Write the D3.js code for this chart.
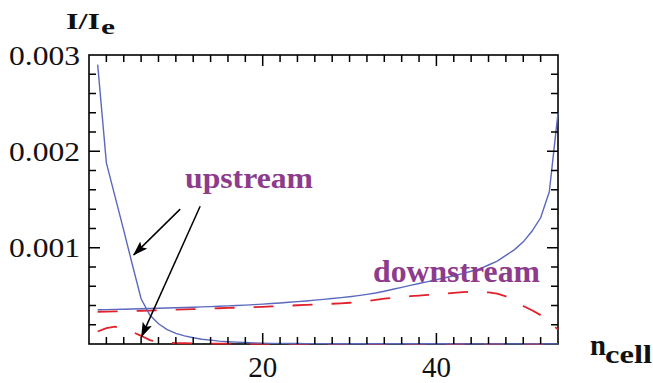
<!DOCTYPE html>
<html>
<head>
<meta charset="utf-8">
<script src="https://cdn.jsdelivr.net/npm/d3@7"></script>
<style>
  html, body { margin: 0; padding: 0; background: #fff; }
  svg { display: block; }
</style>
</head>
<body>
<svg id="chart" width="653" height="383"></svg>
<script>
// I/Ie per cell, cells numbered 1..54
const upstreamSolid = [
  0.00290, 0.00188, 0.00153, 0.00118, 0.00082, 0.00047, 0.00030, 0.00021, 0.00015, 0.00011,
  0.000085, 0.000065, 0.00005, 0.00004, 0.00003, 0.000024, 0.000019, 0.000015, 0.000012, 0.000009,
  0.000007, 0.000006, 0.000005, 0.000005, 0.000004, 0.000004, 0.000004, 0.000003, 0.000003, 0.000003,
  0.000003, 0.000003, 0.000002, 0.000002, 0.000002, 0.000002, 0.000002, 0.000002, 0.000002, 0.000002,
  0.000002, 0.000001, 0.000001, 0.000001, 0.000001, 0.000001, 0.000001, 0.000001, 0.000001, 0.000001,
  0.000001, 0.000001, 0.000001, 0.000001
];
const downstreamSolid = [
  0.000355, 0.000357, 0.000359, 0.000361, 0.000364, 0.000366, 0.000368, 0.000371, 0.000373, 0.000376,
  0.000379, 0.000382, 0.000385, 0.000388, 0.000392, 0.000396, 0.000400, 0.000404, 0.000409, 0.000414,
  0.000420, 0.000426, 0.000433, 0.000440, 0.000447, 0.000455, 0.000463, 0.000472, 0.000481, 0.000491,
  0.000502, 0.000515, 0.000530, 0.000548, 0.000568, 0.000588, 0.000608, 0.000628, 0.000648, 0.000668,
  0.000688, 0.000708, 0.000730, 0.000755, 0.000780, 0.000820, 0.000860, 0.000920, 0.000980, 0.001060,
  0.001170, 0.001310, 0.001580, 0.002400
];
const upstreamDashed = [
  0.000130, 0.000165, 0.000180, 0.000160, 0.000125, 0.000085, 0.000040, 0.000020, 0.000014, 0.000010,
  0.000008, 0.000006, 0.000005, 0.000004, 0.000004, 0.000003, 0.000003, 0.000003, 0.000002, 0.000002,
  0.000002, 0.000002, 0.000002, 0.000002, 0.000001, 0.000001, 0.000001, 0.000001, 0.000001, 0.000001,
  0.000001, 0.000001, 0.000001, 0.000001, 0.000001, 0.000001, 0.000001, 0.000001, 0.000001, 0.000001,
  0.000001, 0.000001, 0.000001, 0.000001, 0.000001, 0.000001, 0.000001, 0.000001, 0.000001, 0.000001,
  0.000001, 0.000001, 0.000001, 0.000001
];
const downstreamDashed = [
  0.000335, 0.000337, 0.000339, 0.000341, 0.000343, 0.000345, 0.000347, 0.000350, 0.000353, 0.000356,
  0.000359, 0.000362, 0.000365, 0.000368, 0.000371, 0.000374, 0.000377, 0.000380, 0.000383, 0.000386,
  0.000390, 0.000394, 0.000398, 0.000402, 0.000406, 0.000410, 0.000414, 0.000418, 0.000422, 0.000428,
  0.000436, 0.000446, 0.000458, 0.000470, 0.000480, 0.000488, 0.000496, 0.000503, 0.000509, 0.000515,
  0.000522, 0.000530, 0.000538, 0.000543, 0.000543, 0.000535, 0.000522, 0.000495, 0.000455, 0.000395,
  0.000350, 0.000300, 0.000230, 0.000150
];

const xTickValues = [20, 40];
const xTickLabels = ["20", "40"];
const yTickValues = [0.001, 0.002, 0.003];
const yTickLabels = ["0.001", "0.002", "0.003"];

const svg = d3.select("#chart");
const serif = '"Liberation Serif"';

const plotLeft = 89, plotRight = 558, plotTop = 55, plotBottom = 344;
const x = d3.scaleLinear().domain([0, 54]).range([plotLeft, plotRight]);
const y = d3.scaleLinear().domain([0, 0.003]).range([plotBottom, plotTop]);

// tick labels
svg.selectAll("text.xl").data(xTickValues).join("text").attr("class", "xl")
  .attr("x", d => x(d)).attr("y", 376.5)
  .attr("text-anchor", "middle")
  .style("font-family", serif).style("font-size", "29px").attr("fill", "#111")
  .text((d, i) => xTickLabels[i]);
svg.selectAll("text.ylab").data(yTickValues).join("text").attr("class", "ylab")
  .attr("x", 80).attr("y", d => y(d) + 9.5)
  .attr("text-anchor", "end")
  .style("font-family", serif).style("font-size", "28px").attr("fill", "#111")
  .attr("textLength", 71).attr("lengthAdjust", "spacingAndGlyphs")
  .text((d, i) => yTickLabels[i]);

// frame
svg.append("rect")
  .attr("x", plotLeft).attr("y", plotTop)
  .attr("width", plotRight - plotLeft).attr("height", plotBottom - plotTop)
  .attr("fill", "none").attr("stroke", "#000").attr("stroke-width", 1.6);

// curves
const line = d3.line().x((d, i) => x(i + 1)).y(d => y(d));
const blue = "#5a68bd", red = "#e0202b";

svg.append("path").datum(downstreamDashed).attr("d", line)
  .attr("fill", "none").attr("stroke", red).attr("stroke-width", 1.8)
  .attr("stroke-dasharray", "20,19");
svg.append("path").datum(upstreamDashed).attr("d", line)
  .attr("fill", "none").attr("stroke", red).attr("stroke-width", 1.8)
  .attr("stroke-dasharray", "20,19");
svg.append("path").datum(downstreamSolid).attr("d", line)
  .attr("fill", "none").attr("stroke", blue).attr("stroke-width", 1.4);
svg.append("path").datum(upstreamSolid).attr("d", line)
  .attr("fill", "none").attr("stroke", blue).attr("stroke-width", 1.4);

// inward tick marks every 2 cells and every 0.0002, longer at labelled values
const xTicks = d3.range(2, 54, 2).map(v => ({ v, len: v % 20 === 0 ? 11 : 7 }));
const yTicks = d3.range(1, 15).map(k => ({ v: k * 0.0002, len: k % 5 === 0 ? 11 : 7 }));
const tickPath = d3.path();
xTicks.forEach(t => {
  tickPath.moveTo(x(t.v), plotBottom); tickPath.lineTo(x(t.v), plotBottom - t.len);
  tickPath.moveTo(x(t.v), plotTop);    tickPath.lineTo(x(t.v), plotTop + t.len);
});
yTicks.forEach(t => {
  tickPath.moveTo(plotLeft, y(t.v));  tickPath.lineTo(plotLeft + t.len, y(t.v));
  tickPath.moveTo(plotRight, y(t.v)); tickPath.lineTo(plotRight - t.len, y(t.v));
});
svg.append("path").attr("d", tickPath.toString())
  .attr("fill", "none").attr("stroke", "#000").attr("stroke-width", 1.5);

// annotation arrows
svg.append("defs").append("marker")
  .attr("id", "head").attr("viewBox", "0 0 15 10")
  .attr("refX", 14).attr("refY", 5)
  .attr("markerWidth", 15).attr("markerHeight", 10)
  .attr("markerUnits", "userSpaceOnUse").attr("orient", "auto")
  .append("path").attr("d", "M0,0 L15,5 L0,10 L3,5 Z").attr("fill", "#000");

const arrows = [
  { from: [10.5, 0.00140], to: [5.15, 0.000925] },
  { from: [12.8, 0.00143], to: [6.05, 0.000076] }
];
svg.selectAll("line.arrow").data(arrows).join("line")
  .attr("class", "arrow")
  .attr("x1", d => x(d.from[0])).attr("y1", d => y(d.from[1]))
  .attr("x2", d => x(d.to[0])).attr("y2", d => y(d.to[1]))
  .attr("stroke", "#000").attr("stroke-width", 1.5)
  .attr("marker-end", "url(#head)");

// labels
const purple = "#8d3b8c";
svg.append("text").text("upstream")
  .attr("x", 185).attr("y", 188)
  .style("font-family", serif).style("font-weight", "bold").style("font-size", "29px")
  .attr("textLength", 128).attr("lengthAdjust", "spacingAndGlyphs")
  .attr("fill", purple);
svg.append("text").text("downstream")
  .attr("x", 373).attr("y", 281.5)
  .style("font-family", serif).style("font-weight", "bold").style("font-size", "31px")
  .attr("textLength", 167).attr("lengthAdjust", "spacingAndGlyphs")
  .attr("fill", purple);

// axis titles
svg.append("text").text("I/I")
  .attr("x", 66).attr("y", 28.5)
  .style("font-family", serif).style("font-weight", "bold").style("font-size", "23px")
  .attr("textLength", 34).attr("lengthAdjust", "spacingAndGlyphs").attr("fill", "#111");
svg.append("text").text("e")
  .attr("x", 101).attr("y", 33.5)
  .style("font-family", serif).style("font-weight", "bold").style("font-size", "22px")
  .attr("textLength", 14).attr("lengthAdjust", "spacingAndGlyphs").attr("fill", "#111");
svg.append("text").text("n")
  .attr("x", 590).attr("y", 355)
  .style("font-family", serif).style("font-weight", "bold").style("font-size", "29px")
  .attr("textLength", 16).attr("lengthAdjust", "spacingAndGlyphs").attr("fill", "#111");
svg.append("text").text("cell")
  .attr("x", 605).attr("y", 362.5)
  .style("font-family", serif).style("font-weight", "bold").style("font-size", "25px")
  .attr("textLength", 47).attr("lengthAdjust", "spacingAndGlyphs").attr("fill", "#111");
</script>
</body>
</html>
